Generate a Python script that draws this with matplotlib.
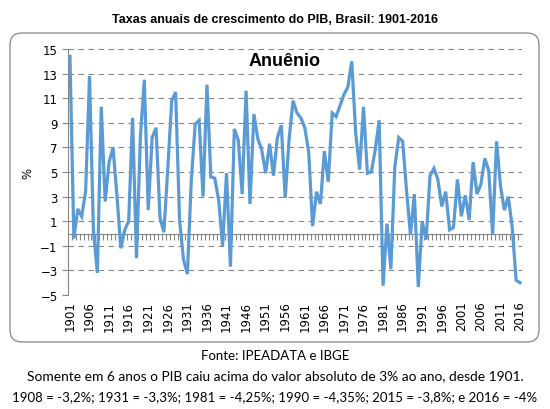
import matplotlib
matplotlib.use("Agg")
import matplotlib.pyplot as plt
from matplotlib.patches import FancyBboxPatch

# taxa anual de crescimento do PIB (%), 1901-2016
years = list(range(1901, 2017))
growth = [
    14.4, -0.4, 2.0, 1.4, 3.4, 12.8, 0.2, -3.2, 10.3, 2.6,    # 1901-1910
    5.8, 7.0, 3.1, -1.2, 0.3, 1.0, 9.4, -2.0, 7.9, 12.5,      # 1911-1920
    1.9, 7.8, 8.6, 1.3, 0.1, 5.3, 10.8, 11.5, 1.1, -2.1,      # 1921-1930
    -3.3, 4.3, 8.9, 9.2, 3.0, 12.1, 4.6, 4.5, 2.7, -1.0,      # 1931-1940
    4.9, -2.7, 8.5, 7.6, 3.2, 11.6, 2.4, 9.7, 7.7, 6.8,       # 1941-1950
    4.9, 7.3, 4.7, 7.8, 8.8, 2.9, 7.7, 10.8, 9.8, 9.4,        # 1951-1960
    8.6, 6.6, 0.6, 3.4, 2.4, 6.7, 4.2, 9.8, 9.5, 10.4,        # 1961-1970
    11.3, 11.9, 14.0, 8.2, 5.2, 10.3, 4.9, 5.0, 6.8, 9.2,     # 1971-1980
    -4.25, 0.8, -2.9, 5.4, 7.8, 7.5, 3.5, -0.1, 3.2, -4.35,   # 1981-1990
    1.0, -0.5, 4.7, 5.3, 4.4, 2.2, 3.4, 0.3, 0.5, 4.4,        # 1991-2000
    1.4, 3.1, 1.1, 5.8, 3.2, 4.0, 6.1, 5.1, -0.1, 7.5,        # 2001-2010
    3.9, 1.9, 3.0, 0.5, -3.8, -4.0,                           # 2011-2016
]
label_years = list(range(1901, 2017, 5))
y_ticks = list(range(-5, 16, 2))

title = "Taxas anuais de crescimento do PIB, Brasil: 1901-2016"
notes = [
    ("Fonte: IPEADATA e IBGE", 9.5),
    ("Somente em 6 anos o PIB caiu acima do valor absoluto de 3% ao ano, desde 1901.", 9.9),
    ("1908 = -3,2%; 1931 = -3,3%; 1981 = -4,25%; 1990 = -4,35%; 2015 = -3,8%; e 2016 = -4%", 9.5),
]

gray = "#868686"
blue = "#5B9BD5"

fig = plt.figure(figsize=(5.5, 4.1), dpi=100)
ax = fig.add_axes([68 / 550, 1 - 296 / 410, (522 - 68) / 550, (296 - 50) / 410])

# moldura arredondada (estilo Excel)
frame = FancyBboxPatch((0.10, 0.67), 5.29, 3.09,
                       boxstyle="round,pad=0,rounding_size=0.12",
                       transform=fig.dpi_scale_trans, fill=False,
                       edgecolor=gray, linewidth=0.9)
fig.patches.append(frame)

ax.plot(years, growth, color=blue, linewidth=2.3, solid_joinstyle="miter", zorder=3)

ax.set_xlim(1900.5, 2016.5)
ax.set_ylim(-5, 15)
ax.set_yticks(y_ticks)
ax.yaxis.grid(True, color=gray, linestyle=(0, (5, 4)), linewidth=0.8)
ax.set_axisbelow(True)

for side in ["top", "right", "bottom"]:
    ax.spines[side].set_visible(False)
ax.spines["left"].set_color(gray)
ax.tick_params(axis="y", colors=gray, length=4, labelcolor="black", labelsize=8.5)

ax.set_xticks(label_years)
ax.set_xticklabels([str(y) for y in label_years], rotation=90, fontsize=8.5)
ax.tick_params(axis="x", length=0, pad=4)

# eixo horizontal no zero com marcas anuais
zero_axis = ax.secondary_xaxis(0.25)
zero_axis.set_xticks([y + 0.5 for y in years[:-1]])
zero_axis.set_xticklabels([])
zero_axis.tick_params(axis="x", length=4, colors=gray, direction="out")
zero_axis.spines["bottom"].set_color(gray)

ax.set_ylabel("%", fontsize=8.5, labelpad=4)

ax.text(0.476, 0.955, "Anuênio", transform=ax.transAxes, ha="center", va="center",
        fontsize=13, fontweight="bold", family="Liberation Sans")

fig.text(0.5, 1 - 20 / 410, title, ha="center", va="center", fontsize=9,
         fontweight="bold", family="Liberation Sans")
for i, (line, size) in enumerate(notes):
    fig.text(0.5, 1 - (356 + 20.5 * i) / 410, line, ha="center", va="center",
             fontsize=size, family="Lato")

fig.savefig("out.png", dpi=100)
plt.close(fig)
